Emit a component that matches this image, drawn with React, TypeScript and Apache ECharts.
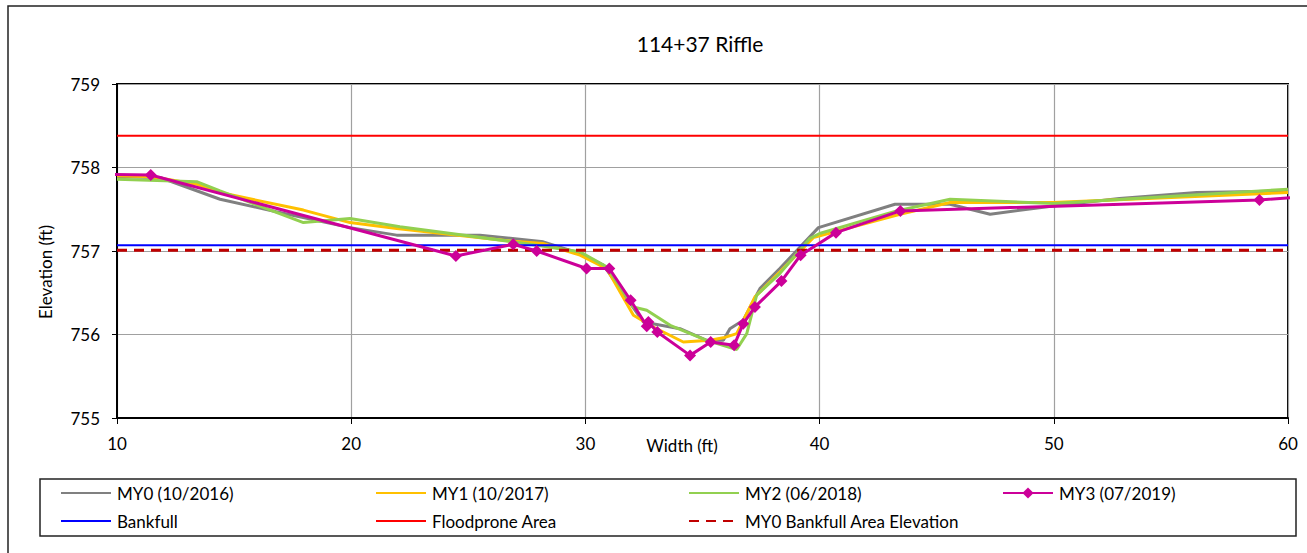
import React, { useEffect, useRef } from "react";
import * as echarts from "echarts";

// Axis ranges (ft)
const X_MIN = 10;
const X_MAX = 60;
const X_STEP = 10;
const Y_MIN = 755;
const Y_MAX = 759;
const Y_STEP = 1;

const chartTitle = "114+37 Riffle";
const xAxisName = "Width (ft)";
const yAxisName = "Elevation (ft)";

// Cross-section surveys: [station (ft), elevation (ft)]
const my0: [number, number][] = [
  [10, 757.89], [11.84, 757.88], [14.4, 757.62], [16.8, 757.47], [19.95, 757.28],
  [21.94, 757.19], [25.5, 757.19], [28.2, 757.11], [29.77, 756.97], [30.77, 756.83],
  [32.47, 756.15], [34.04, 756.07], [35.18, 755.93], [35.89, 755.93], [36.17, 756.07],
  [36.74, 756.17], [37.45, 756.55], [38.3, 756.79], [39.95, 757.28], [43.22, 757.56],
  [45.57, 757.56], [47.28, 757.44], [49.97, 757.54], [52.8, 757.63], [56.1, 757.7],
  [60, 757.72],
];

const my1: [number, number][] = [
  [10, 757.9], [11.5, 757.89], [13.4, 757.8], [14.4, 757.7], [17.96, 757.49],
  [19.95, 757.34], [21.94, 757.27], [26.78, 757.12], [28.19, 757.09], [29.77, 756.95],
  [30.91, 756.79], [32.05, 756.23], [32.9, 756.09], [34.18, 755.91], [35.32, 755.93],
  [35.89, 755.96], [36.46, 756.01], [37.24, 756.45], [38.31, 756.75], [39.73, 757.16],
  [43.43, 757.44], [45.57, 757.58], [49.97, 757.58], [60, 757.7],
];

const my2: [number, number][] = [
  [10, 757.86], [13.4, 757.83], [14.4, 757.72], [17.96, 757.34], [19.95, 757.39],
  [22.08, 757.29], [26.92, 757.11], [29.77, 756.99], [30.91, 756.81], [32.05, 756.33],
  [32.62, 756.29], [33.62, 756.11], [35.18, 755.93], [36.46, 755.82], [36.89, 756.01],
  [37.31, 756.47], [38.3, 756.73], [39.58, 757.15], [40.0, 757.21], [43.29, 757.48],
  [45.57, 757.62], [49.97, 757.57], [60, 757.74],
];

const my3: [number, number][] = [
  [8.6, 757.92], [11.44, 757.91], [24.47, 756.94], [26.92, 757.08], [27.92, 757.0],
  [30.05, 756.79], [31.02, 756.79], [31.93, 756.41], [32.62, 756.1], [32.69, 756.15],
  [33.07, 756.03], [34.47, 755.75], [35.35, 755.91], [36.35, 755.87], [36.74, 756.13],
  [37.24, 756.33], [38.37, 756.64], [39.19, 756.95], [40.7, 757.22], [43.45, 757.48],
  [58.78, 757.61], [61.5, 757.67],
];

// Reference elevations (ft)
const bankfullElev = 757.07;
const floodproneElev = 758.38;
const my0BankfullElev = 757.01;

const seriesNames = [
  "MY0 (10/2016)",
  "MY1 (10/2017)",
  "MY2 (06/2018)",
  "MY3 (07/2019)",
  "Bankfull",
  "Floodprone Area",
  "MY0 Bankfull Area Elevation",
];

const FONT = "Lato, 'Open Sans', sans-serif";

function flatLine(v: number): [number, number][] {
  return [
    [X_MIN, v],
    [X_MAX, v],
  ];
}

export default function App() {
  const ref = useRef<HTMLDivElement>(null);

  useEffect(() => {
    if (!ref.current) return;
    const chart = echarts.init(ref.current, null, { renderer: "svg" });

    const surveyLine = (name: string, data: [number, number][], color: string) => ({
      name,
      type: "line",
      data,
      showSymbol: false,
      symbol: "none",
      lineStyle: { color, width: 3 },
      itemStyle: { color },
      emphasis: { disabled: true },
      z: 2,
    });

    const refLine = (
      name: string,
      v: number,
      color: string,
      width: number,
      type: any = "solid"
    ) => ({
      name,
      type: "line",
      data: flatLine(v),
      symbol: "none",
      showSymbol: false,
      lineStyle: { color, width, type },
      itemStyle: { color },
      emphasis: { disabled: true },
      z: 3,
    });

    // Only the MY3 survey shows a marker in its legend key
    const markerSeries = new Set([seriesNames[3]]);
    const legendCols = [60, 375, 688, 1002];
    const legendRows = [493, 521];
    const legend = seriesNames.map((name, i) => ({
      data: [
        markerSeries.has(name)
          ? { name }
          : { name, itemStyle: { opacity: 0 } },
      ],
      left: legendCols[i < 4 ? i : i - 4],
      top: legendRows[i < 4 ? 0 : 1] - 10,
      padding: 0,
      itemWidth: 50,
      itemHeight: 14,
      itemGap: 0,
      selectedMode: false,
      textStyle: {
        fontFamily: FONT,
        fontSize: 17,
        color: "#000",
        lineHeight: 20,
        padding: [0, 0, 0, 1],
      },
    }));

    const option: any = {
      animation: false,
      backgroundColor: "#fff",
      textStyle: { fontFamily: FONT },
      grid: {
        left: 117,
        top: 84,
        width: 1171,
        height: 334,
        show: true,
        borderColor: "#000",
        borderWidth: 2,
        backgroundColor: "transparent",
      },
      xAxis: {
        type: "value",
        min: X_MIN,
        max: X_MAX,
        interval: X_STEP,
        axisLine: { show: true, lineStyle: { color: "#000", width: 2 } },
        axisTick: { show: true, length: 6, inside: false, lineStyle: { color: "#000", width: 1 } },
        axisLabel: { margin: 17, fontSize: 17, color: "#000", fontFamily: FONT },
        splitLine: { show: true, lineStyle: { color: "#A0A0A0", width: 1.2 } },
      },
      yAxis: {
        type: "value",
        min: Y_MIN,
        max: Y_MAX,
        interval: Y_STEP,
        axisLine: { show: true, lineStyle: { color: "#000", width: 2 } },
        axisTick: { show: true, length: 5, inside: false, lineStyle: { color: "#000", width: 1 } },
        axisLabel: { margin: 17, fontSize: 17, color: "#000", fontFamily: FONT },
        splitLine: { show: true, lineStyle: { color: "#A0A0A0", width: 1.2 } },
      },
      legend,
      series: [
        surveyLine(seriesNames[0], my0, "#808080"),
        surveyLine(seriesNames[1], my1, "#FFC000"),
        surveyLine(seriesNames[2], my2, "#92D050"),
        {
          name: seriesNames[3],
          type: "line",
          data: my3,
          symbol: "diamond",
          symbolSize: 12,
          showSymbol: true,
          lineStyle: { color: "#CC0099", width: 3 },
          itemStyle: { color: "#CC0099" },
          emphasis: { disabled: true },
          z: 4,
        },
        refLine(seriesNames[4], bankfullElev, "#0000FF", 2),
        refLine(seriesNames[5], floodproneElev, "#FF0000", 2),
        refLine(seriesNames[6], my0BankfullElev, "#C00000", 3, [10, 7]),
      ],
      graphic: [
        {
          type: "rect",
          silent: true,
          shape: { x: 8, y: 6, width: 1400, height: 700 },
          style: { fill: "none", stroke: "#222", lineWidth: 1.5 },
        },
        {
          type: "rect",
          silent: true,
          shape: { x: 40, y: 479, width: 1256, height: 57 },
          style: { fill: "none", stroke: "#222", lineWidth: 1.5 },
        },
        {
          type: "text",
          x: 700,
          y: 43,
          style: {
            text: chartTitle,
            fontFamily: FONT,
            fontSize: 21,
            fill: "#000",
            align: "center",
            verticalAlign: "middle",
          },
        },
        {
          type: "text",
          x: 682,
          y: 445,
          style: {
            text: xAxisName,
            fontFamily: FONT,
            fontSize: 17,
            fill: "#000",
            align: "center",
            verticalAlign: "middle",
          },
        },
        {
          type: "text",
          x: 45,
          y: 272,
          rotation: Math.PI / 2,
          style: {
            text: yAxisName,
            fontFamily: FONT,
            fontSize: 17,
            fill: "#000",
            align: "center",
            verticalAlign: "middle",
          },
        },
      ],
    };

    chart.setOption(option);
    return () => chart.dispose();
  }, []);

  return (
    <div
      ref={ref}
      style={{
        position: "fixed",
        left: 0,
        top: 0,
        width: 1307,
        height: 553,
        background: "#fff",
      }}
    />
  );
}
